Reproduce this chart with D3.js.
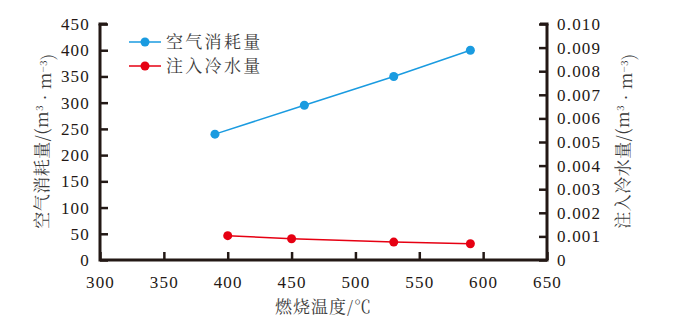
<!DOCTYPE html>
<html><head><meta charset="utf-8">
<script src="https://cdn.jsdelivr.net/npm/d3@7"></script>
<style>
body{margin:0;background:#fff;}
svg{display:block;}
</style></head>
<body>
<svg id="c" width="675" height="323"></svg>
<script>
const xTicks = [300,350,400,450,500,550,600,650];
const yLeftTicks = [0,50,100,150,200,250,300,350,400,450];
const yRightTicks = [0,0.001,0.002,0.003,0.004,0.005,0.006,0.007,0.008,0.009,0.010];
const airTemp = [390,460,530,590];
const airValues = [240,295,350,400];
const waterTemp = [400,450,530,590];
const waterValues = [0.00103,0.00090,0.00076,0.00069];
const seriesNames = ["空气消耗量","注入冷水量"];

const svg = d3.select("#c");
const L=100, R=547, T=24, B=260;
const axisColor="#231815";
const blue="#1a9be0", red="#e60012";
const serif = "Liberation Serif";
const cjk = "Noto Serif CJK SC";

const x = d3.scaleLinear().domain([300,650]).range([L,R]);
const yL = d3.scaleLinear().domain([0,450]).range([B,T]);
const yR = d3.scaleLinear().domain([0,0.010]).range([B,T]);

const gx = svg.append("g").attr("transform",`translate(0,${B})`)
  .call(d3.axisBottom(x).tickValues(xTicks).tickSizeInner(-8).tickSizeOuter(0).tickPadding(20).tickFormat(d3.format("d")));
const gl = svg.append("g").attr("transform",`translate(${L},0)`)
  .call(d3.axisLeft(yL).tickValues(yLeftTicks).tickSizeInner(-8).tickSizeOuter(0).tickPadding(10).tickFormat(d3.format("d")));
const gr = svg.append("g").attr("transform",`translate(${R},0)`)
  .call(d3.axisRight(yR).tickValues(yRightTicks).tickSizeInner(-8).tickSizeOuter(0).tickPadding(10).tickFormat(d=>d===0?"0":d3.format(".3f")(d)));
[gx,gl,gr].forEach(g=>{
  g.attr("font-family",serif).attr("font-size",17);
  g.select(".domain").remove();
  g.selectAll(".tick line").attr("stroke",axisColor).attr("stroke-width",2.5);
  g.selectAll(".tick text").attr("font-family",serif).attr("font-size",17)
    .attr("letter-spacing","1.2px").attr("fill",axisColor);
});
gx.selectAll(".tick text").attr("dy","0.71em").attr("y",16);

svg.append("path").attr("d",`M${L},${T}V${B}H${R}V${T}`).attr("fill","none")
  .attr("stroke",axisColor).attr("stroke-width",3);
svg.append("line").attr("x1",L-1.5).attr("x2",L+7).attr("y1",T).attr("y2",T).attr("stroke",axisColor).attr("stroke-width",3);
svg.append("line").attr("x1",R+1.5).attr("x2",R-7).attr("y1",T).attr("y2",T).attr("stroke",axisColor).attr("stroke-width",3);

const lineAir = d3.line().x((d,i)=>x(airTemp[i])).y(d=>yL(d));
const lineWater = d3.line().x((d,i)=>x(waterTemp[i])).y(d=>yR(d));
svg.append("path").attr("d",lineAir(airValues)).attr("fill","none").attr("stroke",blue).attr("stroke-width",1.5);
svg.append("path").attr("d",lineWater(waterValues)).attr("fill","none").attr("stroke",red).attr("stroke-width",1.5);
svg.selectAll(".pa").data(airValues).enter().append("circle")
  .attr("cx",(d,i)=>x(airTemp[i])).attr("cy",d=>yL(d)).attr("r",4.5).attr("fill",blue);
svg.selectAll(".pw").data(waterValues).enter().append("circle")
  .attr("cx",(d,i)=>x(waterTemp[i])).attr("cy",d=>yR(d)).attr("r",4.5).attr("fill",red);

const leg = [{n:seriesNames[0],c:blue,y:42},{n:seriesNames[1],c:red,y:66}];
leg.forEach(l=>{
  svg.append("line").attr("x1",129).attr("x2",161).attr("y1",l.y).attr("y2",l.y).attr("stroke",l.c).attr("stroke-width",1.5);
  svg.append("circle").attr("cx",145).attr("cy",l.y).attr("r",4.5).attr("fill",l.c);
  svg.append("text").attr("font-family",cjk).attr("fill","#3a3a3a").attr("x",166).attr("y",l.y).attr("dy","0.35em")
    .attr("font-size",17).attr("letter-spacing","2.3px").text(l.n);
});

svg.append("text").attr("font-family",cjk).attr("fill","#3a3a3a").attr("x",(L+R)/2).attr("y",307).attr("dy","0.35em")
  .attr("text-anchor","middle").attr("font-size",17).attr("letter-spacing","1px").text("燃烧温度/℃");

function yTitle(cx, cy, main){
  const t = svg.append("text").attr("font-family",cjk).attr("fill","#3a3a3a")
    .attr("transform",`translate(${cx},${cy}) rotate(-90)`)
    .attr("text-anchor","middle").attr("dy","0.35em").attr("font-size",17).attr("letter-spacing","0.5px");
  t.append("tspan").text(main+"/(m");
  t.append("tspan").attr("dy","-0.45em").attr("font-size",10).text("3");
  t.append("tspan").attr("dy","0.45em").text(" · m");
  t.append("tspan").attr("dy","-0.45em").attr("font-size",10).text("−3");
  t.append("tspan").attr("dy","0.45em").text(")");
}
yTitle(42,141,seriesNames[0]);
yTitle(623,141,seriesNames[1]);
</script>
</body></html>
